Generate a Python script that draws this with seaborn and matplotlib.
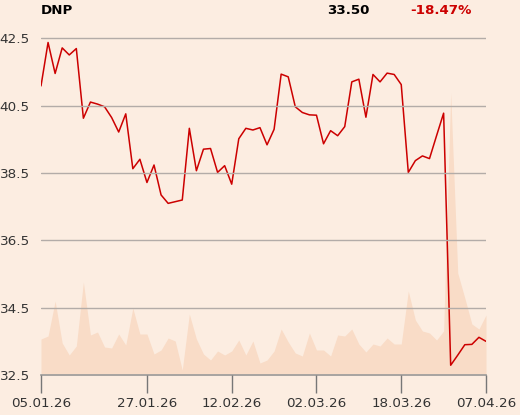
import pandas as pd
import numpy as np
import matplotlib
matplotlib.use("Agg")
import matplotlib.pyplot as plt
import seaborn as sns

# closing prices, one per trading day
prices = [41.09, 42.38, 41.46, 42.22, 42.01, 42.20, 40.13, 40.61, 40.55, 40.47,
          40.15, 39.72, 40.26, 38.63, 38.91, 38.22, 38.74, 37.85, 37.60, 37.65,
          37.70, 39.83, 38.57, 39.21, 39.23, 38.52, 38.72, 38.17, 39.52, 39.83,
          39.78, 39.85, 39.34, 39.80, 41.44, 41.36, 40.47, 40.30, 40.23, 40.22,
          39.37, 39.76, 39.61, 39.88, 41.21, 41.29, 40.16, 41.43, 41.21, 41.47,
          41.43, 41.13, 38.52, 38.87, 39.01, 38.93, 39.61, 40.28, 32.79, 33.09,
          33.40, 33.41, 33.62, 33.50]

# traded volume (relative units)
volume = [36, 39, 74, 32, 20, 29, 93, 40, 43, 28,
          27, 41, 30, 67, 41, 41, 21, 25, 37, 34,
          5, 61, 36, 21, 15, 24, 20, 24, 35, 20,
          34, 12, 15, 24, 46, 33, 22, 19, 42, 25,
          25, 19, 40, 39, 46, 31, 23, 31, 29, 37,
          31, 31, 84, 55, 44, 42, 35, 44, 282, 102,
          77, 51, 46, 60]

holidays = ["2026-01-19", "2026-04-03", "2026-04-06"]
dates = [d for d in pd.bdate_range("2026-01-05", "2026-04-07")
         if d.strftime("%Y-%m-%d") not in holidays]
tick_dates = ["2026-01-05", "2026-01-27", "2026-02-12",
              "2026-03-02", "2026-03-18", "2026-04-07"]

ticker = "DNP"
last_price = "33.50"
change = "-18.47%"

bg = "#fcede1"
red = "#cc0000"

sns.set_style("white")
plt.rcParams["font.family"] = ["DejaVu Sans"]

df = pd.DataFrame({"pos": np.arange(len(prices)), "date": dates,
                   "price": prices, "volume": volume})

fig = plt.figure(figsize=(5.2, 4.15), dpi=100, facecolor=bg)
ax = fig.add_axes([41 / 520, 40 / 415, 445 / 520, 350 / 415])
ax_vol = ax.twinx()
ax.set_zorder(2)
ax_vol.set_zorder(1)
ax.patch.set_visible(False)
ax_vol.set_facecolor(bg)

# volume area in the background
ax_vol.fill_between(df["pos"], df["volume"], 0, color="#f9dcc7", lw=0)
ax_vol.set_ylim(0, 350)
ax_vol.set_yticks([])
for s in ax_vol.spines.values():
    s.set_visible(False)

sns.lineplot(data=df, x="pos", y="price", ax=ax, color=red, lw=1.1)

ax.set_xlim(0, len(prices) - 1)
ax.set_ylim(32.5, 42.9)
ax.set_yticks([32.5, 34.5, 36.5, 38.5, 40.5, 42.5])
ax.set_yticklabels(["32.5", "34.5", "36.5", "38.5", "40.5", "42.5"])
ax.grid(axis="y", color="#b3aca8", lw=1)
ax.set_axisbelow(False)

pos_of = {d.strftime("%Y-%m-%d"): i for i, d in enumerate(dates)}
ax.set_xticks([pos_of[d] for d in tick_dates])
ax.set_xticklabels([pd.Timestamp(d).strftime("%d.%m.%y") for d in tick_dates])
ax.tick_params(axis="x", bottom=True, direction="out", length=13, width=1,
               color="#777777", pad=3, labelsize=9.7, labelcolor="#333333")
ax.tick_params(axis="y", left=False, length=0, pad=8, labelsize=9.7,
               labelcolor="#333333")
ax.set_xlabel("")
ax.set_ylabel("")
for side in ["top", "right", "left"]:
    ax.spines[side].set_visible(False)
ax.spines["bottom"].set_color("#999999")
ax.spines["bottom"].set_linewidth(1.2)

fig.text(41 / 520, 1 - 10 / 415, ticker, fontsize=9.6, fontweight="bold",
         ha="left", va="center", color="black")
fig.text(369 / 520, 1 - 11 / 415, last_price, fontsize=9.6, fontweight="bold",
         ha="right", va="center", color="black")
fig.text(410 / 520, 1 - 11 / 415, change, fontsize=9.6, fontweight="bold",
         ha="left", va="center", color=red)

fig.savefig("out.png", dpi=100, facecolor=bg)
